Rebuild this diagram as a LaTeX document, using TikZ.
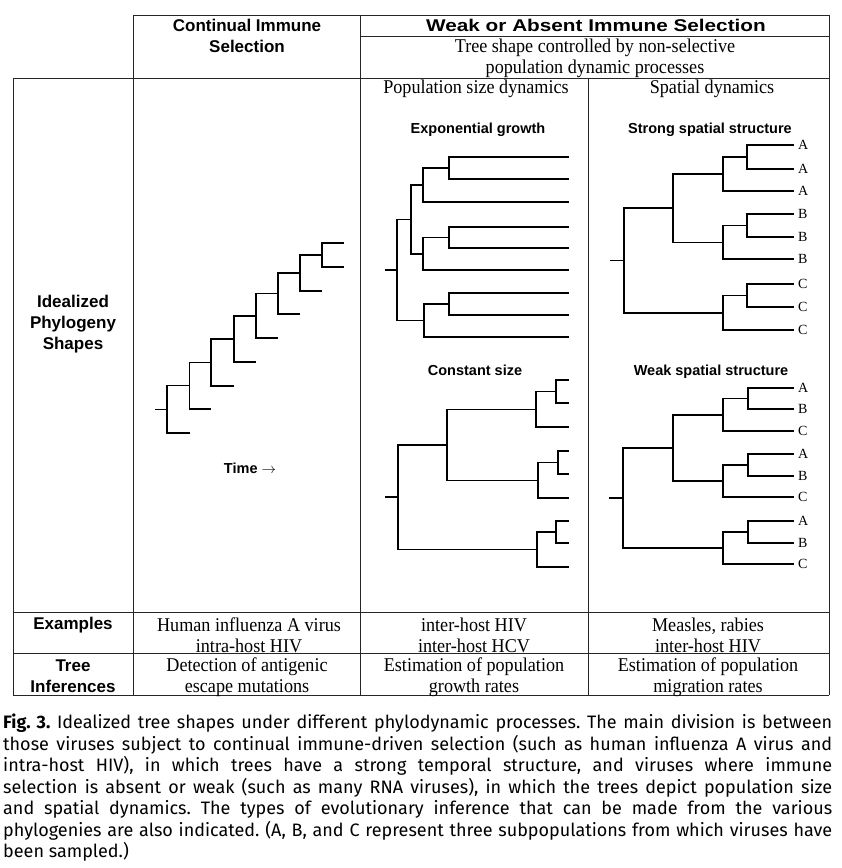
\documentclass[tikz,border=0pt]{standalone}
\usepackage{fontspec}
\setmainfont[FakeStretch=0.93]{Liberation Serif}
\setsansfont{Liberation Sans}
\newfontfamily\capfont{Fira Sans}
\newfontfamily\leaffont{Liberation Serif}
\newfontfamily\widesans[FakeStretch=1.22]{Liberation Sans}
\usetikzlibrary{calc}
\usetikzlibrary{positioning}
\newcommand{\capline}[1]{\makebox[829pt][s]{#1}}

\begin{document}
\begin{tikzpicture}[x=1pt,y=-1pt,
    rule/.style={draw=black!85, line width=0.8pt},
    branch/.style={draw=black, line width=1.4pt},
    hdr/.style={font=\sffamily\bfseries\fontsize{17}{21}\selectfont, align=center, inner sep=0pt},
    body/.style={font=\fontsize{19.5}{21}\selectfont, align=center, inner sep=0pt},
    treehdr/.style={font=\sffamily\bfseries\fontsize{14.5}{17}\selectfont, inner sep=0pt},
    site/.style={font=\leaffont\fontsize{14}{16}\selectfont, inner sep=0pt, right=4pt}]
    \useasboundingbox (0,0) rectangle (842,868);

    % table rules
    \draw[rule] (133,15) -- (829,15);
    \draw[rule] (360,36) -- (829,36);
    \foreach \y in {78,612,653,695}
        \draw[rule] (13,\y) -- (829,\y);
    \foreach \x/\t in {13/78, 133/15, 360/15, 588/78, 829/15}
        \draw[rule] (\x,\t) -- (\x,695);

    % headings
    \node[hdr]  (cis-hdr)  at (247,35.5) {Continual Immune\\Selection};
    \node[hdr, font=\widesans\bfseries\fontsize{17}{21}\selectfont]
                (weak-hdr) at (596,25)   {Weak or Absent Immune Selection};
    \node[body] (ctrl)     at (595,58)   {Tree shape controlled by non-selective\\population dynamic processes};
    \node[body] (popdyn)   at (476,89)   {Population size dynamics};
    \node[body] (spdyn)    at (712,89)   {Spatial dynamics};
    \node[hdr]  (shapes)   at (73,324)   {Idealized\\Phylogeny\\Shapes};
    \node[hdr]  (examples) at (73,625.5) {Examples};
    \node[hdr]  (infer)    at (73,676.5) {Tree\\Inferences};

    % rows below the trees
    \node[body] (ex-cis)  at (249,635.5) {Human influenza A virus\\intra-host HIV};
    \node[body] (ex-pop)  at (474,635.5) {inter-host HIV\\inter-host HCV};
    \node[body] (ex-sp)   at (708,635.5) {Measles, rabies\\inter-host HIV};
    \node[body] (inf-cis) at (247,677)   {Detection of antigenic\\escape mutations};
    \node[body] (inf-pop) at (474,677)   {Estimation of population\\growth rates};
    \node[body] (inf-sp)  at (708,677)   {Estimation of population\\migration rates};

    % tree titles
    \node[treehdr] (exp-hdr)  at (478,129.5) {Exponential growth};
    \node[treehdr] (cst-hdr)  at (475,370.5) {Constant size};
    \node[treehdr] (str-hdr)  at (710,129.5) {Strong spatial structure};
    \node[treehdr] (wk-hdr)   at (711,371.5) {Weak spatial structure};
    \node[treehdr] (time)     at (250,468)   {Time $\rightarrow$};

    % continual selection: ladder tree
    \coordinate (ci-s) at (155,409.4);
    \foreach \x/\y [count=\i from 0] in {167/409.4, 189.5/385.7, 211/362.4, 234/338.9,
                                         256/315.8, 278/293.5, 300/273, 322/255}
        \coordinate (ci\i) at (\x,\y);
    \foreach \x/\y [count=\i from 0] in {189.5/433, 211/409, 234/386, 256/362, 278/338,
                                         300/314, 322/291, 344/267, 344/243}
        \coordinate (cl\i) at (\x,\y);
    \draw[branch] (ci-s) -- (ci0);
    \foreach \p/\c in {ci0/ci1, ci0/cl0, ci1/ci2, ci1/cl1, ci2/ci3, ci2/cl2, ci3/ci4, ci3/cl3,
                       ci4/ci5, ci4/cl4, ci5/ci6, ci5/cl5, ci6/ci7, ci6/cl6, ci7/cl7, ci7/cl8}
        \draw[branch] (\p) |- (\c);

    % leaves of the four nine-tip trees
    \foreach \t/\x/\ys in {ex/569/{157,179,202,227,248,270,293,315,337},
                           cs/569/{380,403,427,451,474,498,521,543,567},
                           st/794/{145,169,191,214,237,259,284,307,330},
                           wk/794/{388,409,431,454,476,497,521,543,564}}
        \foreach \y [count=\i] in \ys
            \coordinate (\t-\i) at (\x,\y);

    % inner nodes
    \path (449,168)   coordinate (ex-a) (423,185)   coordinate (ex-b) (449,237.5) coordinate (ex-c)
          (423,253.8) coordinate (ex-d) (411,219.4) coordinate (ex-e) (449,304)   coordinate (ex-f)
          (424,320.5) coordinate (ex-g) (397,270)   coordinate (ex-r) (385,270)   coordinate (ex-s);
    \path (556,391.5) coordinate (cs-a) (536,409.3) coordinate (cs-b) (558,462.5) coordinate (cs-c)
          (538,480.3) coordinate (cs-d) (447,444.8) coordinate (cs-e) (556,532)   coordinate (cs-f)
          (537,549.5) coordinate (cs-g) (398,497.1) coordinate (cs-r) (385,497.1) coordinate (cs-s);
    \path (747,157)   coordinate (st-a) (723,174)   coordinate (st-b) (747,225.5) coordinate (st-c)
          (723,242.3) coordinate (st-d) (673,208.1) coordinate (st-e) (747,295.5) coordinate (st-f)
          (723,312.8) coordinate (st-g) (624,260.4) coordinate (st-r) (610,260.4) coordinate (st-s);
    \path (748,398.5) coordinate (wk-a) (723,414.8) coordinate (wk-b) (748,465)   coordinate (wk-c)
          (723,481)   coordinate (wk-d) (673,447.9) coordinate (wk-e) (748,532)   coordinate (wk-f)
          (723,548)   coordinate (wk-g) (623,497.9) coordinate (wk-r) (609,497.9) coordinate (wk-s);

    % same topology for all four
    \foreach \t in {ex,cs,st,wk} {
        \draw[branch] (\t-s) -- (\t-r);
        \foreach \p/\c in {r/e, r/g, e/b, e/d, b/a, b/3, a/1, a/2,
                           d/c, d/6, c/4, c/5, g/f, g/9, f/7, f/8}
            \draw[branch] (\t-\p) |- (\t-\c);
    }

    % subpopulation labels
    \foreach \i/\lbl in {1/A,2/A,3/A,4/B,5/B,6/B,7/C,8/C,9/C}
        \node[site] (st-lbl\i) at (st-\i) {\lbl};
    \foreach \i/\lbl in {1/A,2/B,3/C,4/A,5/B,6/C,7/A,8/B,9/C}
        \node[site] (wk-lbl\i) at (wk-\i) {\lbl};

    % caption
    \node[anchor=north west, inner sep=0pt, align=left,
          font=\capfont\fontsize{18}{21.5}\selectfont\frenchspacing] (caption) at (3,714)
        {\capline{\textbf{Fig. 3.} Idealized tree shapes under different phylodynamic processes. The main division is between}\\
         \capline{those viruses subject to continual immune-driven selection (such as human influenza A virus and}\\
         \capline{intra-host HIV), in which trees have a strong temporal structure, and viruses where immune}\\
         \capline{selection is absent or weak (such as many RNA viruses), in which the trees depict population size}\\
         \capline{and spatial dynamics. The types of evolutionary inference that can be made from the various}\\
         \capline{phylogenies are also indicated. (A, B, and C represent three subpopulations from which viruses have}\\
         been sampled.)};
\end{tikzpicture}
\end{document}
